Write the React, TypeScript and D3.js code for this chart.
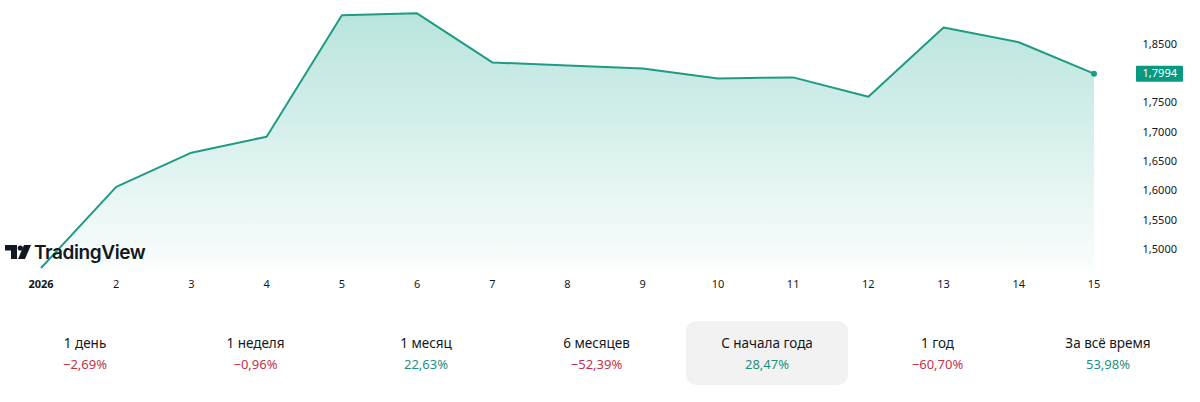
import React from "react";
import * as d3 from "d3";

const days = [1, 2, 3, 4, 5, 6, 7, 8, 9, 10, 11, 12, 13, 14, 15];
const values = [1.4675, 1.606, 1.6644, 1.6918, 1.899, 1.9024, 1.8185, 1.8134, 1.808, 1.791, 1.793, 1.760, 1.878, 1.853, 1.7994];
const xTickLabels = ["2026", "2", "3", "4", "5", "6", "7", "8", "9", "10", "11", "12", "13", "14", "15"];
const yTicks = [1.5, 1.55, 1.6, 1.65, 1.7, 1.75, 1.85];
const lastPrice = 1.7994;
const periodLabels = ["1 день", "1 неделя", "1 месяц", "6 месяцев", "С начала года", "1 год", "За всё время"];
const periodValues = [-2.69, -0.96, 22.63, -52.39, 28.47, -60.7, 53.98];

const fmt4 = (v: number) => v.toFixed(4).replace(".", ",");
const fmtPct = (v: number) => (v < 0 ? "\u2212" : "") + Math.abs(v).toFixed(2).replace(".", ",") + "%";

export default function App() {
  const W = 1200, H = 402;
  const x = d3.scaleLinear().domain([1, 15]).range([41, 1094]);
  const y = d3.scaleLinear().domain([1.5, 1.85]).range([249, 44]);
  const baseY = 271;
  const line = d3.line<number>().x((_, i) => x(days[i])).y((d) => y(d));
  const area = d3.area<number>().x((_, i) => x(days[i])).y0(baseY).y1((d) => y(d));
  const green = "#22ab94";
  const lineColor = "#1f9a85";
  const red = "#c2334a";
  const posColor = "#1f8f7c";
  const colW = 170.5;
  const col0 = 85;

  return (
    <svg width={W} height={H} style={{ position: "absolute", left: 0, top: 0, display: "block" }}
      fontFamily="'Noto Sans', 'DejaVu Sans', sans-serif">
      <defs>
        <linearGradient id="areaGrad" x1="0" x2="0" y1={y(1.9024)} y2={baseY} gradientUnits="userSpaceOnUse">
          <stop offset="0" stopColor={green} stopOpacity={0.32} />
          <stop offset="1" stopColor={green} stopOpacity={0.02} />
        </linearGradient>
      </defs>
      <rect x={0} y={0} width={W} height={H} fill="#ffffff" />
      <path d={area(values) || ""} fill="url(#areaGrad)" />
      <path d={line(values) || ""} fill="none" stroke={lineColor} strokeWidth={2} strokeLinejoin="round" />
      <circle cx={x(15)} cy={y(lastPrice)} r={3} fill={lineColor} />

      {yTicks.map((t) => (
        <text key={t} x={1177} y={y(t)} dy="0.35em" textAnchor="end" fontSize={11} fill="#131722">
          {fmt4(t)}
        </text>
      ))}
      <rect x={1136} y={y(lastPrice) - 8} width={47} height={16} fill="#089981" rx={1} />
      <text x={1177} y={y(lastPrice)} dy="0.35em" textAnchor="end" fontSize={11} fill="#ffffff">
        {fmt4(lastPrice)}
      </text>

      {xTickLabels.map((l, i) => (
        <text key={l} x={x(days[i])} y={284} dy="0.35em" textAnchor="middle" fontSize={11}
          fill="#131722" fontWeight={i === 0 ? 700 : 400}>
          {l}
        </text>
      ))}

      <g fill="#131722">
        <path d="M5,245 H17 V259 H11 V250.5 H5 Z" />
        <circle cx={20.3} cy={248} r={2.6} />
        <path d="M24,245 H31 L25,259 H18 Z" />
      </g>
      <text x={34} y={259} fontFamily="Inter, 'Open Sans', sans-serif" fontWeight={600} fontSize={19}
        fill="#131722" letterSpacing={-0.4}>
        TradingView
      </text>

      <rect x={686} y={321} width={162} height={64} rx={10} fill="#f2f2f2" />
      {periodLabels.map((l, i) => (
        <g key={l}>
          <text x={col0 + colW * i} y={343} dy="0.35em" textAnchor="middle" fontSize={13.5} fill="#131722">
            {l}
          </text>
          <text x={col0 + colW * i} y={364} dy="0.35em" textAnchor="middle" fontSize={13}
            fill={periodValues[i] < 0 ? red : posColor}>
            {fmtPct(periodValues[i])}
          </text>
        </g>
      ))}
    </svg>
  );
}
